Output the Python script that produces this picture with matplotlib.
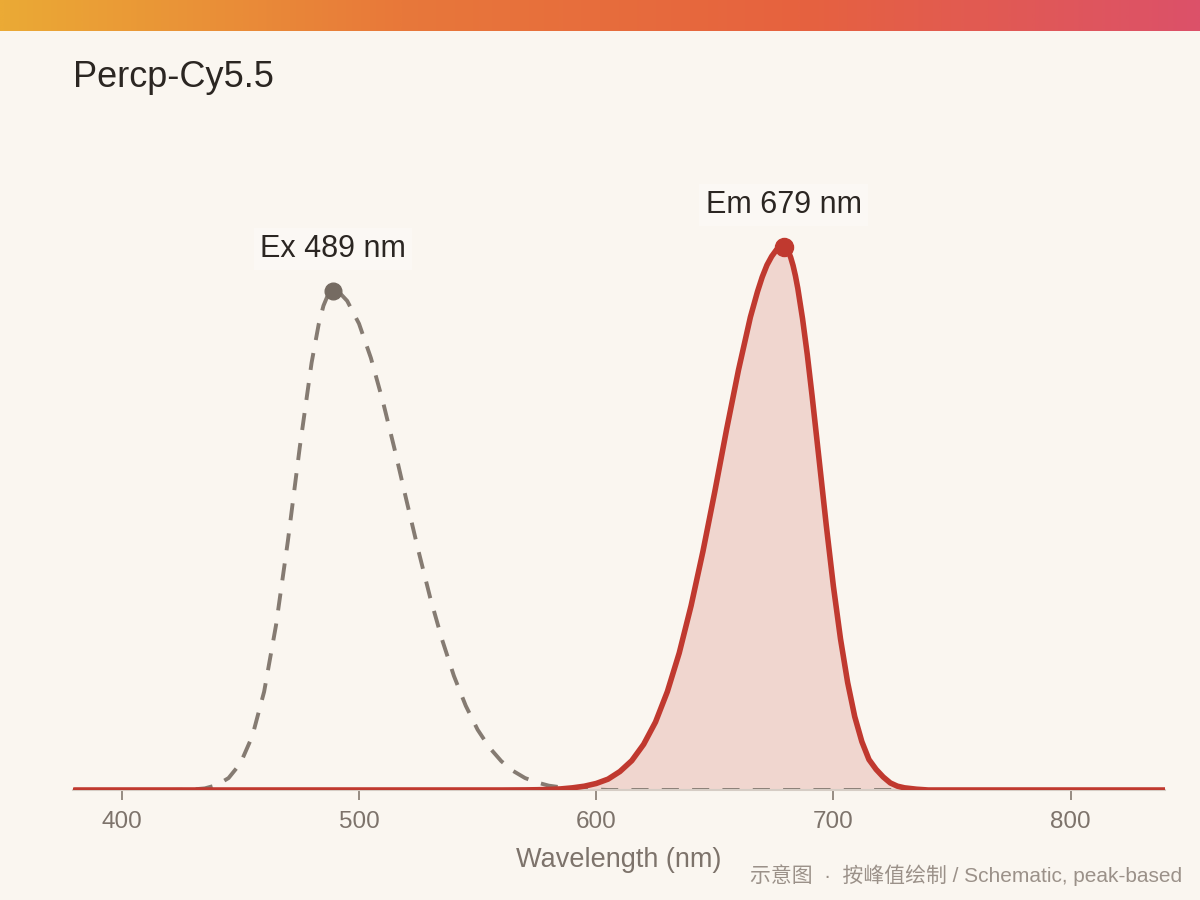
import numpy as np
import matplotlib
matplotlib.use("Agg")
import matplotlib.pyplot as plt
from matplotlib.colors import LinearSegmentedColormap

plt.rcParams["font.family"] = ["Liberation Sans", "Noto Sans CJK SC", "DejaVu Sans"]

# data (schematic spectra, normalised to emission peak)
title = "Percp-Cy5.5"
ex_peak = 489
em_peak = 679

ex_nm = [380, 420, 425, 430, 435, 440, 445, 450, 455, 460, 465, 470, 475, 480,
         483, 485, 487, 489, 492, 495, 500, 505, 510, 515, 520, 525, 530, 535,
         540, 545, 550, 555, 560, 565, 570, 575, 580, 585, 590, 595, 600, 605,
         840]
ex_val = [0, 0.0001, 0.0003, 0.001, 0.003, 0.009, 0.022, 0.049, 0.099, 0.181,
          0.303, 0.458, 0.630, 0.786, 0.857, 0.891, 0.912, 0.919, 0.914, 0.900,
          0.858, 0.795, 0.716, 0.627, 0.533, 0.441, 0.354, 0.277, 0.210, 0.155,
          0.111, 0.078, 0.053, 0.035, 0.022, 0.014, 0.008, 0.005, 0.003, 0.002,
          0.001, 0, 0]

em_nm = [380, 560, 565, 570, 575, 580, 585, 590, 595, 600, 605, 610, 615, 620,
         625, 630, 635, 640, 645, 650, 655, 660, 665, 668, 670, 672, 674, 676,
         677, 678, 679, 680, 681, 682, 683, 684, 685, 687, 689, 691, 694, 697,
         700, 703, 706, 709, 712, 715, 718, 721, 724, 727, 730, 735, 740, 840]
em_val = [0, 0, 0.0001, 0.0002, 0.0005, 0.001, 0.002, 0.004, 0.007, 0.012,
          0.020, 0.034, 0.054, 0.084, 0.125, 0.181, 0.252, 0.339, 0.439, 0.549,
          0.664, 0.773, 0.870, 0.917, 0.944, 0.966, 0.982, 0.994, 0.997, 0.999,
          1.0, 0.998, 0.991, 0.980, 0.965, 0.946, 0.923, 0.867, 0.801, 0.726,
          0.607, 0.487, 0.375, 0.278, 0.198, 0.135, 0.089, 0.056, 0.038, 0.024,
          0.013, 0.007, 0.004, 0.0015, 0, 0]

x_ticks = [400, 500, 600, 700, 800]
footnote = "示意图  ·  按峰值绘制 / Schematic, peak-based"

BG = "#FAF6F0"
EM = "#C0392F"
EX = "#857B72"
EX_DOT = "#756B62"
TXT = "#2B2622"
GREY = "#7D736B"

fig = plt.figure(figsize=(12, 9), dpi=100, facecolor=BG)

# gradient band on top
bar = fig.add_axes([0, 1 - 31 / 900, 1, 31 / 900])
cmap = LinearSegmentedColormap.from_list(
    "band", ["#EBAA35", "#E8783A", "#E6623F", "#DC5169"])
bar.imshow(np.linspace(0, 1, 512)[None, :], aspect="auto", cmap=cmap)
bar.axis("off")

ax = fig.add_axes([72.5 / 1200, 1 - 790 / 900, 1092 / 1200, 625 / 900])
ax.set_facecolor(BG)

ax.fill_between(em_nm, em_val, color=EM, alpha=0.17, lw=0, zorder=1)
ax.plot(ex_nm, ex_val, color=EX, lw=2.8, dashes=(4.4, 3.4), zorder=2)
ax.plot(em_nm, em_val, color=EM, lw=4.0, solid_joinstyle="round",
        solid_capstyle="round", zorder=3)

ex_top = ex_val[ex_nm.index(ex_peak)]
em_top = em_val[em_nm.index(em_peak)]
ax.plot([ex_peak], [ex_top], "o", ms=12, color=EX_DOT, zorder=4)
ax.plot([em_peak], [em_top], "o", ms=13, color=EM, zorder=4)

box = dict(boxstyle="square,pad=0.2", fc="#FBF8F4", ec="none")
ax.annotate(f"Ex {ex_peak} nm", xy=(ex_peak, ex_top), xytext=(0, 24),
            textcoords="offset points", ha="center", va="baseline",
            fontsize=22, color=TXT, bbox=box)
ax.annotate(f"Em {em_peak} nm", xy=(em_peak, em_top), xytext=(0, 24),
            textcoords="offset points", ha="center", va="baseline",
            fontsize=22, color=TXT, bbox=box)

ax.set_xlim(379.2, 839.6)
ax.set_ylim(0, 1.15)
for s in ["left", "right", "top"]:
    ax.spines[s].set_visible(False)
ax.spines["bottom"].set_color("#D6CDC5")
ax.spines["bottom"].set_linewidth(1.5)
ax.set_yticks([])
ax.set_xticks(x_ticks)
ax.tick_params(axis="x", length=7, width=1.2, color="#857A70",
               labelsize=17.5, labelcolor=GREY, pad=8)
ax.set_xlabel("Wavelength (nm)", fontsize=19.5, color=GREY, labelpad=10)

fig.text(73 / 1200, 1 - 87 / 900, title, fontsize=26, color=TXT,
         va="baseline", ha="left")
fig.text(1182 / 1200, 1 - 882 / 900, footnote, fontsize=15, color="#9B9189",
         va="baseline", ha="right")

fig.savefig("out.png", dpi=100, facecolor=BG)
